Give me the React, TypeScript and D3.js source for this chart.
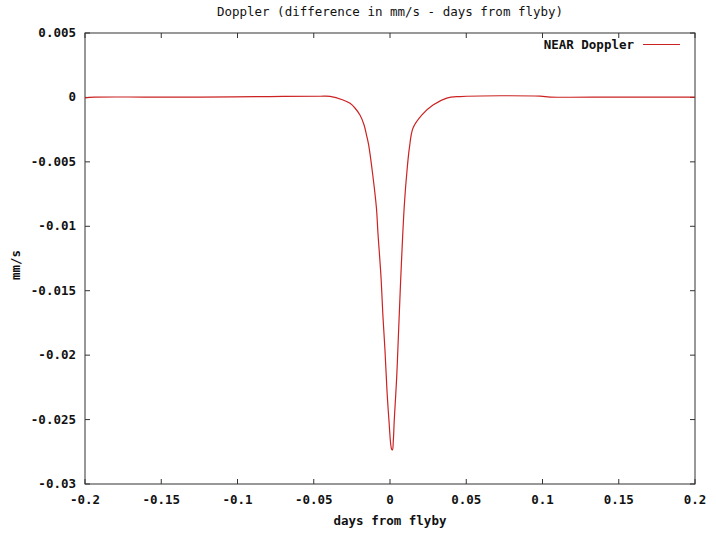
import React from "react";
import * as d3 from "d3";

const days: number[] = [
  -0.2, -0.194, -0.16, -0.1246, -0.079, -0.0459, -0.0393, -0.0308, -0.0262, -0.023,
  -0.0197, -0.017, -0.0154, -0.014, -0.0113, -0.0089, -0.0079, -0.0059, -0.0046,
  -0.0033, -0.002, -0.0007, 0.001, 0.0016, 0.0022, 0.0028, 0.0044, 0.0054, 0.007,
  0.0094, 0.0113, 0.0127, 0.0151, 0.0208, 0.0282, 0.0372, 0.0459, 0.0984, 0.105, 0.15,
  0.2,
];
const doppler: number[] = [
  -0.00003, 0.00002, 0.00003, 0.00003, 0.00007, 0.00009, 0.00008, -0.0002, -0.00046,
  -0.00082, -0.00137, -0.00214, -0.00292, -0.00369, -0.00602, -0.00858, -0.01052,
  -0.01393, -0.01704, -0.0196, -0.0227, -0.02503, -0.02728, -0.02736, -0.02659,
  -0.02503, -0.0217, -0.01883, -0.01417, -0.00835, -0.00548, -0.00393, -0.00237,
  -0.00137, -0.00059, -0.00005, 0.00007, 0.0001, 0.00003, 0.00003, 0.00003,
];
const xTicks: number[] = [-0.2, -0.15, -0.1, -0.05, 0, 0.05, 0.1, 0.15, 0.2];
const xTickLabels: string[] = ["-0.2", "-0.15", "-0.1", "-0.05", "0", "0.05", "0.1", "0.15", "0.2"];
const yTicks: number[] = [0.005, 0, -0.005, -0.01, -0.015, -0.02, -0.025, -0.03];
const yTickLabels: string[] = ["0.005", "0", "-0.005", "-0.01", "-0.015", "-0.02", "-0.025", "-0.03"];

const W = 716;
const H = 534;
const M = { left: 85, right: 695, top: 33, bottom: 484 };
const FONT = "'DejaVu Sans Mono', monospace";

export default function App() {
  const x = d3.scaleLinear().domain([-0.2, 0.2]).range([M.left, M.right]);
  const y = d3.scaleLinear().domain([-0.03, 0.005]).range([M.bottom, M.top]);
  const pts = days.map((d, i) => [d, doppler[i]] as [number, number]);
  const line = d3
    .line<[number, number]>()
    .x((d) => x(d[0]))
    .y((d) => y(d[1]))
    .curve(d3.curveCatmullRom.alpha(0.5));
  const tl = 5;
  const axisColor = "#333";
  return (
    <svg
      width={W}
      height={H}
      style={{ position: "absolute", left: 0, top: 0, background: "#fff" }}
      fontFamily={FONT}
    >
      <rect x={0} y={0} width={W} height={H} fill="#fff" />
      <text x={390} y={16} textAnchor="middle" fontSize={12.5} fill="#111">
        Doppler (difference in mm/s - days from flyby)
      </text>
      {xTicks.map((t, i) => (
        <g key={"x" + i}>
          <line x1={x(t)} x2={x(t)} y1={M.bottom} y2={M.bottom - tl} stroke={axisColor} />
          <line x1={x(t)} x2={x(t)} y1={M.top} y2={M.top + tl} stroke={axisColor} />
          <text
            x={x(t)}
            y={504}
            textAnchor="middle"
            fontSize={12.5}
            fontWeight="bold"
            fill="#111"
          >
            {xTickLabels[i]}
          </text>
        </g>
      ))}
      {yTicks.map((t, i) => (
        <g key={"y" + i}>
          <line x1={M.left} x2={M.left + tl} y1={y(t)} y2={y(t)} stroke={axisColor} />
          <line x1={M.right} x2={M.right - tl} y1={y(t)} y2={y(t)} stroke={axisColor} />
          <text
            x={76}
            y={y(t) + 4}
            textAnchor="end"
            fontSize={12.5}
            fontWeight="bold"
            fill="#111"
          >
            {yTickLabels[i]}
          </text>
        </g>
      ))}
      <rect
        x={M.left}
        y={M.top}
        width={M.right - M.left}
        height={M.bottom - M.top}
        fill="none"
        stroke={axisColor}
      />
      <path d={line(pts) ?? ""} fill="none" stroke="#cc2222" strokeWidth={1.2} />
      <text x={634} y={49} textAnchor="end" fontSize={12.5} fontWeight="bold" fill="#111">
        NEAR Doppler
      </text>
      <line x1={643} x2={680} y1={44.5} y2={44.5} stroke="#cc2222" strokeWidth={1.2} />
      <text x={390} y={525} textAnchor="middle" fontSize={12.5} fontWeight="bold" fill="#111">
        days from flyby
      </text>
      <text
        transform={`translate(20,${265}) rotate(-90)`}
        textAnchor="middle"
        fontSize={12.5}
        fontWeight="bold"
        fill="#111"
      >
        mm/s
      </text>
    </svg>
  );
}
